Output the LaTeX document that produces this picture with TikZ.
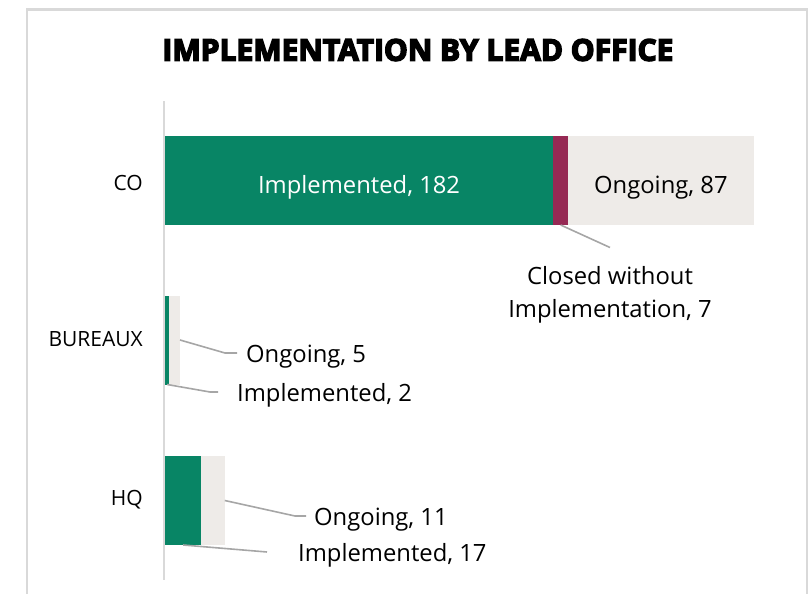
\documentclass[tikz,border=0pt]{standalone}
\usepackage{fontspec}
\setmainfont{Open Sans}
\newfontfamily\titlefont{Open Sans}[BoldFeatures={FakeBold=5}]
\usetikzlibrary{positioning}
\usepackage{xcolor}
\definecolor{implgreen}{RGB}{8,133,101}
\definecolor{closedred}{RGB}{150,41,84}
\definecolor{ongoinggray}{RGB}{238,235,232}
\definecolor{leadergray}{RGB}{166,166,166}
\definecolor{framegray}{RGB}{217,217,217}

\begin{document}
\begin{tikzpicture}[x=1pt, y=-1pt, node distance=0pt]
	\tikzstyle{seg} = [draw=none, inner sep=0pt, outer sep=0pt, minimum height=89pt, text height=25pt, text depth=0pt, font=\fontsize{23.8}{28}\selectfont]
	\tikzstyle{cat} = [draw=none, inner sep=0pt, anchor=east, font=\fontsize{21}{25}\selectfont]
	\tikzstyle{lbl} = [draw=none, inner sep=0pt, anchor=west, font=\fontsize{23.8}{33}\selectfont]
	\tikzstyle{lblone} = [lbl, text height=18.5pt, text depth=0pt]
	\tikzstyle{leader} = [draw=leadergray, line width=1.6pt]
	
	\useasboundingbox (0,0) rectangle (811,594);
	\draw[framegray, line width=2.5pt] (27,594) -- (27,9.5) -- (807,9.5) -- (807,594);
	
	\node[font=\titlefont\bfseries\fontsize{30}{36}\selectfont] at (418,50) (title) {IMPLEMENTATION BY LEAD OFFICE};
	
	% CO
	\node[seg, anchor=west, fill=implgreen, text=white, minimum width=388.2pt] at (165,180.5) (coImpl) {Implemented, 182};
	\node[seg, fill=closedred, minimum width=14.9pt, right=of coImpl] (coClosed) {};
	\node[seg, fill=ongoinggray, minimum width=185.6pt, right=of coClosed] (coOng) {Ongoing, 87};
	\node[cat] at (143,183) (co) {CO};
	
	% BUREAUX
	\node[seg, anchor=west, fill=implgreen, minimum width=4.3pt] at (165,340) (buImpl) {};
	\node[seg, fill=ongoinggray, minimum width=10.7pt, right=of buImpl] (buOng) {};
	\node[cat] at (143,339) (bu) {BUREAUX};
	
	% HQ
	\node[seg, anchor=west, fill=implgreen, minimum width=36.3pt] at (165,500.5) (hqImpl) {};
	\node[seg, fill=ongoinggray, minimum width=23.5pt, right=of hqImpl] (hqOng) {};
	\node[cat] at (143,500) (hq) {HQ};
	
	\draw[framegray, line width=2pt] (164,101) -- (164,580);
	
	% data labels
	\node[lbl, anchor=north, align=center] at (610,266.5) (closedLbl) {Closed without\\Implementation, 7};
	\node[lblone] at (246,353) (ong5) {Ongoing, 5};
	\node[lblone] at (237,392) (impl2) {Implemented, 2};
	\node[lblone] at (314,516) (ong11) {Ongoing, 11};
	\node[lblone] at (298,552) (impl17) {Implemented, 17};
	
	\draw[leader] (coClosed.south) -- ([yshift=19]closedLbl.north);
	\draw[leader] (buOng.east) -- ([xshift=-21]ong5.west) -- ([xshift=-9]ong5.west);
	\draw[leader] (buImpl.south) -- ([xshift=-27]impl2.west) -- ([xshift=-19]impl2.west);
	\draw[leader] (hqOng.east) -- ([xshift=-19]ong11.west) -- ([xshift=-8]ong11.west);
	\draw[leader] (hqImpl.south) -- ([xshift=-31]impl17.west);
\end{tikzpicture}
\end{document}
